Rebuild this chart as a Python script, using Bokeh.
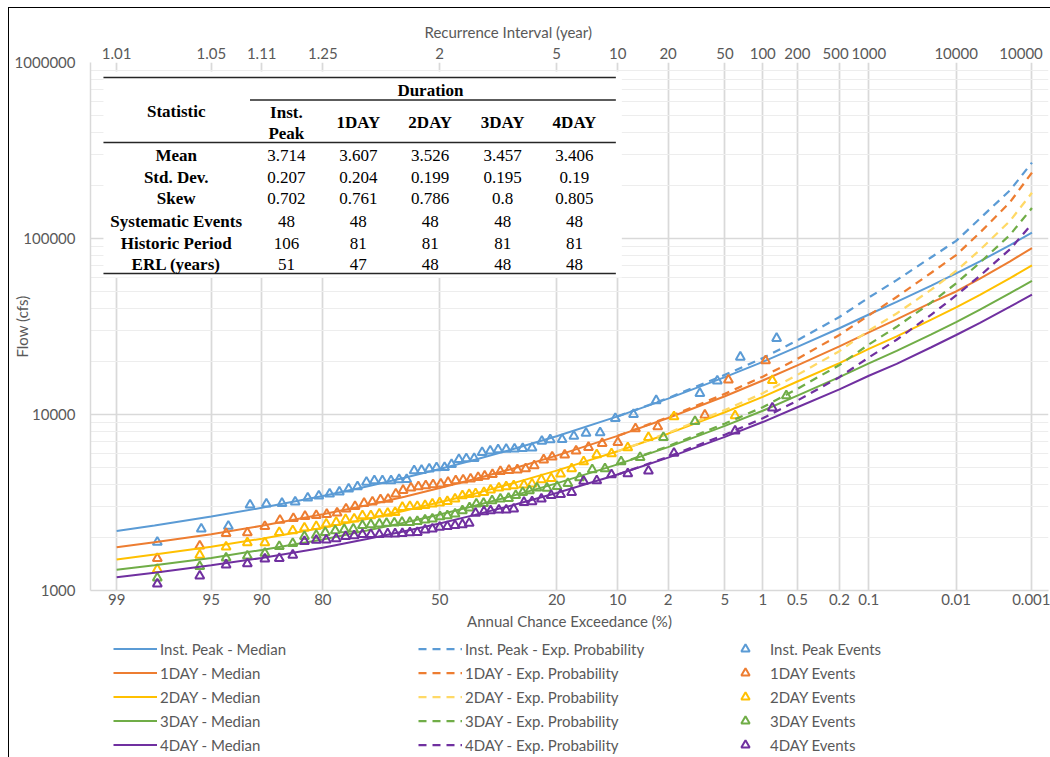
import math
from bokeh.plotting import figure
from bokeh.models import Range1d, LinearAxis, FixedTicker, Legend, LegendItem, Title
from bokeh.layouts import column
from bokeh.core.properties import value
from bokeh.embed import file_html
from bokeh.resources import INLINE

# ---------------- data ----------------
ace_curve = [99, 98, 95, 90, 80, 70, 60, 50, 40, 30, 20, 10, 5, 2, 1, 0.5, 0.2, 0.1,
             0.05, 0.02, 0.01, 0.005, 0.002, 0.001]
med_inst = [2180, 2340, 2630, 2950, 3440, 3900, 4370, 4900, 5530, 6340, 7530, 9760, 12300, 16300,
            19900, 24200, 30900, 37000, 43600, 54000, 63300, 74200, 91800, 108000]
med_1day = [1760, 1880, 2090, 2330, 2710, 3050, 3410, 3820, 4300, 4920, 5840, 7560, 9550, 12700,
            15600, 19000, 24400, 29300, 34700, 43200, 50000, 59200, 74200, 88200]
med_2day = [1500, 1600, 1770, 1970, 2270, 2550, 2840, 3170, 3550, 4060, 4800, 6180, 7780, 10300,
            12600, 15400, 19600, 23600, 27800, 34600, 40600, 47900, 59600, 70300]
med_3day = [1310, 1390, 1530, 1700, 1950, 2190, 2430, 2700, 3030, 3450, 4060, 5210, 6530, 8620,
            10500, 12800, 16300, 19500, 23000, 28500, 33500, 39400, 48900, 57500]
med_4day = [1190, 1260, 1390, 1530, 1750, 1960, 2170, 2400, 2690, 3050, 3580, 4560, 5690, 7460,
            9060, 11000, 13900, 16600, 19400, 24100, 28300, 33200, 41000, 48000]

ace_ep = [10, 5, 2, 1, 0.5, 0.2, 0.1, 0.05, 0.02, 0.01, 0.005, 0.002, 0.001]
ep_inst = [9760, 12400, 16800, 20900, 26400, 35800, 46200, 58000, 78300, 96900, 130000, 188000, 270000]
ep_1day = [7560, 9650, 13100, 16400, 20700, 28300, 36600, 46500, 63900, 80500, 108000, 161000, 237000]
ep_2day = [6180, 7860, 10600, 13200, 16800, 22900, 30000, 37500, 51200, 65400, 86200, 126000, 182000]
ep_3day = [5210, 6600, 8880, 11000, 14000, 19100, 25000, 31500, 43300, 55600, 72900, 105000, 149000]
ep_4day = [4560, 5750, 7680, 9510, 12000, 16300, 21100, 26600, 36900, 47500, 61400, 86900, 121000]

ace_ev_inst = [97.9, 95.7, 93.6, 91.4, 89.4, 87.2, 85.1, 82.9, 80.8, 78.6, 76.5, 74.4, 72.3, 70.1, 68.1, 66,
               63.7, 61.5, 59.4, 57.3, 55.2, 53, 50.9, 48.6, 46.6, 44.5, 42.4, 40.2, 38, 35.8, 33.7, 31.6,
               29.5, 27.5, 25.3, 23.1, 21.3, 18.9, 16.7, 14.6, 12.4, 10.3, 8.14, 5.95, 3.05, 2.28, 1.52, 0.763]
flow_ev_inst = [1880, 2240, 2320, 3060, 3100, 3130, 3190, 3360, 3450, 3540, 3630, 3780, 3890, 4130, 4210, 4210,
                4210, 4270, 4280, 4790, 4820, 4910, 4990, 5010, 5210, 5560, 5610, 5630, 6090, 6210, 6310, 6350,
                6370, 6410, 6460, 7050, 7190, 7220, 7530, 7830, 7880, 9500, 10000, 12000, 13200, 15500, 21200, 27100]
ace_ev_1day = [97.9, 95.8, 93.8, 91.7, 89.6, 87.5, 85.4, 83.4, 81.3, 79.2, 77, 75, 72.9, 70.7, 68.6, 66.5,
               64.5, 62.4, 60.4, 58.2, 56.1, 54, 51.9, 49.7, 47.6, 45.4, 43.3, 41.2, 39.1, 37.3, 35.2, 33.1,
               30.9, 28.8, 26.8, 24.8, 22.7, 20.9, 18.4, 16.3, 14.2, 12.1, 9.98, 7.93, 5.82, 2.81, 1.88, 0.947]
flow_ev_1day = [1520, 1790, 2110, 2130, 2310, 2510, 2570, 2640, 2670, 2710, 2760, 2910, 3000, 3130, 3190, 3280,
                3300, 3540, 3710, 3830, 3890, 3940, 3990, 4030, 4120, 4210, 4250, 4300, 4390, 4470, 4570, 4750,
                4820, 4850, 4920, 5120, 5530, 5740, 5900, 6210, 6510, 6850, 6940, 8310, 8530, 9930, 15700, 20200]
ace_ev_2day = [97.9, 95.8, 93.8, 91.7, 89.6, 87.6, 85.5, 83.5, 81.3, 79.3, 77.2, 75.1, 73.1, 71.1, 69, 66.8,
               64.6, 62.6, 60.6, 58.5, 56.4, 54.2, 52.1, 50, 47.8, 45.6, 43.5, 41.6, 39.8, 37.5, 35.7, 33.5,
               31.6, 29.7, 27.2, 25.3, 23.2, 21.1, 19.2, 17.1, 15, 12.9, 10.8, 8.78, 6.64, 4.58, 1.67, 0.83]
flow_ev_2day = [1320, 1590, 1770, 1870, 1870, 2140, 2190, 2270, 2310, 2390, 2440, 2530, 2550, 2660, 2660, 2720,
                2750, 2780, 2970, 3000, 3000, 3040, 3100, 3150, 3210, 3310, 3460, 3510, 3550, 3610, 3730, 3830,
                3890, 3940, 3980, 4030, 4270, 4330, 4600, 4920, 5400, 5910, 5990, 6480, 7410, 9720, 9840, 15600]
ace_ev_3day = [97.9, 95.8, 93.8, 91.7, 89.6, 87.6, 85.5, 83.5, 81.3, 79.5, 77.4, 75.4, 73.3, 71.1, 69, 66.8,
               64.9, 62.8, 60.7, 58.5, 56.4, 54.2, 52.1, 49.9, 47.8, 45.6, 43.5, 41.5, 39.6, 37.6, 35.3, 33.1,
               31.0, 29.2, 27.5, 25.9, 24.2, 22.0, 19.9, 17.8, 15.7, 13.6, 11.7, 9.57, 7.45, 5.36, 3.3, 0.628]
flow_ev_3day = [1180, 1370, 1530, 1570, 1630, 1780, 1850, 2030, 2060, 2140, 2190, 2220, 2240, 2340, 2370, 2390,
                2410, 2420, 2440, 2440, 2470, 2520, 2550, 2630, 2660, 2720, 2840, 2950, 3100, 3130, 3240, 3310,
                3340, 3470, 3610, 3690, 3830, 3820, 3900, 4060, 4380, 4860, 4920, 5400, 5710, 7410, 9140, 12800]
ace_ev_4day = [97.9, 95.8, 93.8, 91.7, 89.6, 87.6, 85.5, 83.5, 81.3, 79.3, 77.2, 75.1, 73.1, 71.1, 69, 66.8,
               64.6, 62.6, 60.6, 58.5, 56.4, 54.2, 52.1, 50, 47.8, 45.6, 43.5, 41.6, 39.8, 37.5, 35.7, 33.5,
               31.6, 29.7, 27.2, 25.3, 23.2, 21.1, 19.2, 17.1, 15, 12.9, 10.8, 8.78, 6.64, 4.58, 1.67, 0.83]
flow_ev_4day = [1090, 1210, 1400, 1420, 1510, 1520, 1590, 1900, 1930, 1940, 1970, 2030, 2050, 2080, 2080, 2080,
                2100, 2100, 2110, 2130, 2140, 2210, 2240, 2290, 2310, 2340, 2370, 2410, 2750, 2810, 2840, 2870,
                2870, 2910, 3170, 3200, 3310, 3470, 3510, 3610, 4180, 4210, 4550, 4610, 4780, 6030, 8060, 10900]

durations = ["Inst. Peak", "1DAY", "2DAY", "3DAY", "4DAY"]
stat_names = ["Mean", "Std. Dev.", "Skew", "Systematic Events", "Historic Period", "ERL (years)"]
stat_mean = [3.714, 3.607, 3.526, 3.457, 3.406]
stat_std = [0.207, 0.204, 0.199, 0.195, 0.19]
stat_skew = [0.702, 0.761, 0.786, 0.8, 0.805]
stat_sys = [48, 48, 48, 48, 48]
stat_hist = [106, 81, 81, 81, 81]
stat_erl = [51, 47, 48, 48, 48]

ace_ticks = [99, 95, 90, 80, 50, 20, 10, 5, 2, 1, 0.5, 0.2, 0.1, 0.01, 0.001]
ace_tick_labels = ["99", "95", "90", "80", "50", "20", "10", "2", "5", "1", "0.5", "0.2", "0.1", "0.01", "0.001"]
ri_tick_labels = ["1.01", "1.05", "1.11", "1.25", "2", "5", "10", "20", "50", "100", "200", "500",
                  "1000", "10000", "10000"]
flow_ticks = [1000, 10000, 100000, 1000000]
flow_tick_labels = ["1000", "10000", "100000", "1000000"]

colors = ["#5B9BD5", "#ED7D31", "#FFC000", "#70AD47", "#7030A0"]
ep_colors = ["#5B9BD5", "#ED7D31", "#FFD966", "#70AD47", "#7030A0"]


# ---------------- probability (normal) transform ----------------
def zval(ace_pct):
    q = ace_pct / 100.0
    lo, hi = -12.0, 12.0
    for _ in range(90):
        mid = 0.5 * (lo + hi)
        if 0.5 * math.erfc(mid / math.sqrt(2.0)) > q:
            lo = mid
        else:
            hi = mid
    return 0.5 * (lo + hi)


def zs(lst):
    return [zval(a) for a in lst]


# ---------------- layout geometry ----------------
W = 1041
H_MAIN = 628
H_LEG = 121
FRAME_L, FRAME_T, FRAME_R_PAD, FRAME_B = 78, 54, 2, 582
PX_PER_Z = 139.3
X0 = -2.5147
X1 = X0 + (W - FRAME_L - FRAME_R_PAD) / PX_PER_Z
PAGE_DX, PAGE_DY = 9, 8
PX_PER_DEC = (FRAME_B - FRAME_T) / 3.0


def tx(px_page):
    return X0 + (px_page - PAGE_DX - FRAME_L) / PX_PER_Z


def ty(py_page):
    return 10 ** (6 - (py_page - PAGE_DY - FRAME_T) / PX_PER_DEC)


FONT = "Lato"
GREY = "#595959"

p = figure(width=W, height=H_MAIN, y_axis_type="log",
           x_range=Range1d(X0, X1), y_range=Range1d(1000, 1000000),
           output_backend="svg", toolbar_location=None,
           min_border_left=FRAME_L, min_border_right=FRAME_R_PAD,
           min_border_top=FRAME_T, min_border_bottom=H_MAIN - FRAME_B)
p.outline_line_color = None
p.background_fill_color = "white"
p.border_fill_color = "white"

zt = zs(ace_ticks)
bticker = FixedTicker(ticks=zt)
xb = p.below[0]
xb.ticker = bticker
xb.major_label_overrides = {z: lab for z, lab in zip(zt, ace_tick_labels)}
xb.axis_label = "Annual Chance Exceedance (%)"
xb.axis_line_color = "#D9D9D9"
xb.axis_line_width = 1.5
xb.major_tick_out = 0
xb.major_tick_in = 0
xb.minor_tick_out = 0
xb.minor_tick_in = 0
xb.major_tick_line_color = None
xb.minor_tick_line_color = None
xb.major_label_standoff = 3
xb.axis_label_standoff = 4
xb.major_label_text_font = FONT
xb.major_label_text_font_size = "15px"
xb.major_label_text_color = GREY
xb.axis_label_text_font = FONT
xb.axis_label_text_font_size = "15px"
xb.axis_label_text_font_style = "normal"
xb.axis_label_text_color = GREY

# top labels: small non-breaking pads nudge the crowded labels the way the reference shows them
top_labels = list(ri_tick_labels)
top_labels[11] = top_labels[11] + "\u00a0" * 2
top_labels[-1] = top_labels[-1] + "\u00a0" * 2
xt = LinearAxis(ticker=FixedTicker(ticks=zt),
                major_label_overrides={z: lab for z, lab in zip(zt, top_labels)},
                axis_line_color=None, major_tick_line_color=None, minor_tick_line_color=None,
                major_tick_out=0, major_tick_in=0, minor_tick_out=0, minor_tick_in=0,
                major_label_standoff=1, major_label_text_font=FONT,
                major_label_text_font_size="15px", major_label_text_color=GREY)
p.add_layout(xt, "above")
p.add_layout(Title(text="Recurrence Interval (year)", align="left", offset=334, standoff=0,
                   text_font=FONT, text_font_size="15px", text_font_style="normal",
                   text_color=GREY), "above")

yminor = [m * 10 ** e for e in (3, 4, 5) for m in range(2, 10)]
yticker = FixedTicker(ticks=flow_ticks, minor_ticks=yminor)
ya = p.left[0]
ya.ticker = yticker
ya.major_label_overrides = {t: lab for t, lab in zip(flow_ticks, flow_tick_labels)}
ya.axis_label = "Flow (cfs)"
ya.axis_label_standoff = -19
ya.axis_line_color = "#D9D9D9"
ya.axis_line_width = 1.5
ya.major_tick_out = 0
ya.major_tick_in = 0
ya.minor_tick_out = 0
ya.minor_tick_in = 0
ya.major_tick_line_color = None
ya.minor_tick_line_color = None
ya.major_label_standoff = 15
ya.major_label_text_font = FONT
ya.major_label_text_font_size = "15px"
ya.major_label_text_color = GREY
ya.axis_label_text_font = FONT
ya.axis_label_text_font_size = "15px"
ya.axis_label_text_font_style = "normal"
ya.axis_label_text_color = GREY

p.xgrid.ticker = bticker
p.xgrid.grid_line_color = "#D9D9D9"
p.xgrid.grid_line_width = 1.75
p.ygrid.ticker = yticker
p.ygrid.grid_line_color = "#D9D9D9"
p.ygrid.grid_line_width = 1.5
p.ygrid.minor_grid_line_color = "#EDEDED"
p.ygrid.minor_grid_line_width = 1

# ---------------- series ----------------
medians = [med_inst, med_1day, med_2day, med_3day, med_4day]
eps = [ep_inst, ep_1day, ep_2day, ep_3day, ep_4day]
ev_ace = [ace_ev_inst, ace_ev_1day, ace_ev_2day, ace_ev_3day, ace_ev_4day]
ev_flow = [flow_ev_inst, flow_ev_1day, flow_ev_2day, flow_ev_3day, flow_ev_4day]

zc = zs(ace_curve)
ze = zs(ace_ep)
for i in range(5):
    p.line(zc, medians[i], line_color=colors[i], line_width=2)
    p.line(ze, eps[i], line_color=ep_colors[i], line_width=2.25, line_dash="8 6")
    p.scatter(zs(ev_ace[i]), ev_flow[i], marker="triangle", size=9, line_color=colors[i],
              line_width=2, fill_color=None)

# ---------------- statistics table ----------------
p.quad(left=[tx(100)], right=[tx(620)], top=[ty(71)], bottom=[ty(277)],
       fill_color="white", line_color=None, level="annotation")
rule_y = [77, 99.5, 142, 273]
rule_x0 = [100, 247, 100, 100]
p.segment(x0=[tx(v) for v in rule_x0], y0=[ty(v) for v in rule_y],
          x1=[tx(614)] * 4, y1=[ty(v) for v in rule_y],
          line_color="#262626", line_width=1.5, level="overlay")

col_x = [283.5, 355.7, 427.8, 500.5, 572.5]
row_y = [155, 176.7, 198.3, 220.7, 242.7, 264.3]
lab_x = 173

bold_txt, bold_x, bold_y = [], [], []
bold_txt += ["Duration", "Statistic", "Inst.", "Peak"]
bold_x += [tx(428), tx(lab_x), tx(col_x[0]), tx(col_x[0])]
bold_y += [ty(90), ty(110.7), ty(111.7), ty(132.7)]
for d, cx in zip(durations[1:], col_x[1:]):
    bold_txt.append(d)
    bold_x.append(tx(cx))
    bold_y.append(ty(122.3))
for s, ry in zip(stat_names, row_y):
    bold_txt.append(s)
    bold_x.append(tx(lab_x))
    bold_y.append(ty(ry))
p.text(x=bold_x, y=bold_y, text=bold_txt, text_font=value("Liberation Serif"),
       text_font_size="17px", text_font_style="bold", text_color="black",
       text_align="center", text_baseline="middle", level="overlay")

rows = [stat_mean, stat_std, stat_skew, stat_sys, stat_hist, stat_erl]
val_txt, val_x, val_y = [], [], []
for r, ry in zip(rows, row_y):
    for v, cx in zip(r, col_x):
        val_txt.append(str(v))
        val_x.append(tx(cx))
        val_y.append(ty(ry))
p.text(x=val_x, y=val_y, text=val_txt, text_font=value("Liberation Serif"),
       text_font_size="17px", text_color="black",
       text_align="center", text_baseline="middle", level="overlay")

# ---------------- legend (separate strip below; its glyphs lie outside its view) ----------------
pl = figure(width=W, height=H_LEG, output_backend="svg", toolbar_location=None,
            x_axis_location=None, y_axis_location=None,
            x_range=Range1d(100, 101), y_range=Range1d(1, 2),
            min_border_left=FRAME_L, min_border_right=0, min_border_top=0, min_border_bottom=0)
pl.outline_line_color = None
pl.grid.visible = False
pl.background_fill_color = "white"
pl.border_fill_color = "white"

items = []
for i, d in enumerate(durations):
    r = pl.line(zc, medians[i], line_color=colors[i], line_width=2)
    items.append(LegendItem(label=d + " - Median", renderers=[r]))
for i, d in enumerate(durations):
    r = pl.line(ze, eps[i], line_color=ep_colors[i], line_width=2.25, line_dash="8 6")
    items.append(LegendItem(label=d + " - Exp. Probability", renderers=[r]))
for i, d in enumerate(durations):
    r = pl.scatter(zs(ev_ace[i]), ev_flow[i], marker="triangle", size=9, line_color=colors[i],
                   line_width=2, fill_color=None)
    items.append(LegendItem(label=d + " Events", renderers=[r]))

leg = Legend(items=items, location=(23, 2), orientation="vertical", nrows=5, ncols=3,
             margin=0, padding=2, spacing=3, glyph_width=44, glyph_height=21,
             label_height=21, label_width=255, label_standoff=3,
             border_line_color=None, background_fill_alpha=0,
             label_text_font=FONT, label_text_font_size="15px", label_text_color=GREY)
pl.add_layout(leg)

layout = column(p, pl, spacing=0, margin=(7, 0, 0, 8),
                styles={"border-top": "1px solid #000", "border-left": "1px solid #000"})

open("out.html", "w").write(file_html(layout, INLINE))
